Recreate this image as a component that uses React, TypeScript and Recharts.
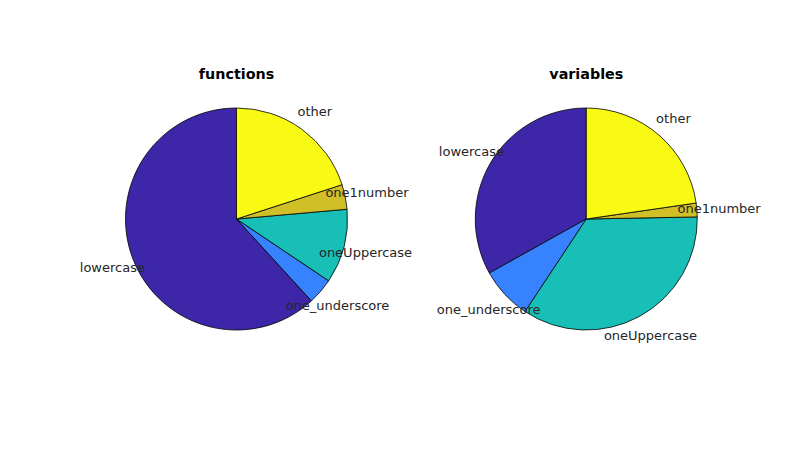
import React from "react";
import { PieChart, Pie, Cell } from "recharts";

const categories = ["lowercase", "one_underscore", "oneUppercase", "one1number", "other"];
const functionsValues = [61.8, 3.8, 10.8, 3.6, 20.0];
const variablesValues = [33.1, 7.6, 34.6, 2.0, 22.7];
const titles = ["functions", "variables"];
const colors = ["#3E26A8", "#3783FF", "#18BFB6", "#D1BF27", "#F9FA14"];

const functionsData = categories.map((name, i) => ({ name, value: functionsValues[i] }));
const variablesData = categories.map((name, i) => ({ name, value: variablesValues[i] }));

const FONT = "'DejaVu Sans', sans-serif";
const RADIAN = Math.PI / 180;

const renderLabel = (props: any) => {
  const { cx, cy, midAngle, outerRadius, name } = props;
  const r = outerRadius * 1.2;
  const x = cx + r * Math.cos(-midAngle * RADIAN);
  const y = cy + r * Math.sin(-midAngle * RADIAN);
  return (
    <text
      x={x}
      y={y}
      textAnchor="middle"
      dominantBaseline="central"
      fontFamily={FONT}
      fontSize={13}
      fill="#262626"
    >
      {name}
    </text>
  );
};

const centers = [
  { cx: 236.5, cy: 219 },
  { cx: 586.3, cy: 219 },
];

export default function App() {
  const datasets = [functionsData, variablesData];
  return (
    <div style={{ position: "absolute", left: 0, top: 0, width: 794, height: 454, background: "#fff" }}>
      <PieChart width={794} height={454} margin={{ top: 0, right: 0, bottom: 0, left: 0 }}>
        {datasets.map((data, k) => (
          <Pie
            key={titles[k]}
            data={data}
            dataKey="value"
            nameKey="name"
            cx={centers[k].cx}
            cy={centers[k].cy}
            outerRadius={111}
            innerRadius={0}
            startAngle={90}
            endAngle={450}
            stroke="#000"
            strokeWidth={0.8}
            label={renderLabel}
            labelLine={false}
            isAnimationActive={false}
          >
            {data.map((d, i) => (
              <Cell key={d.name} fill={colors[i]} />
            ))}
          </Pie>
        ))}
      </PieChart>
      {titles.map((t, k) => (
        <div
          key={t}
          style={{
            position: "absolute",
            left: centers[k].cx - 100,
            width: 200,
            top: 65,
            textAlign: "center",
            fontFamily: FONT,
            fontWeight: "bold",
            fontSize: 14.3,
            lineHeight: "18px",
            color: "#000",
          }}
        >
          {t}
        </div>
      ))}
    </div>
  );
}
